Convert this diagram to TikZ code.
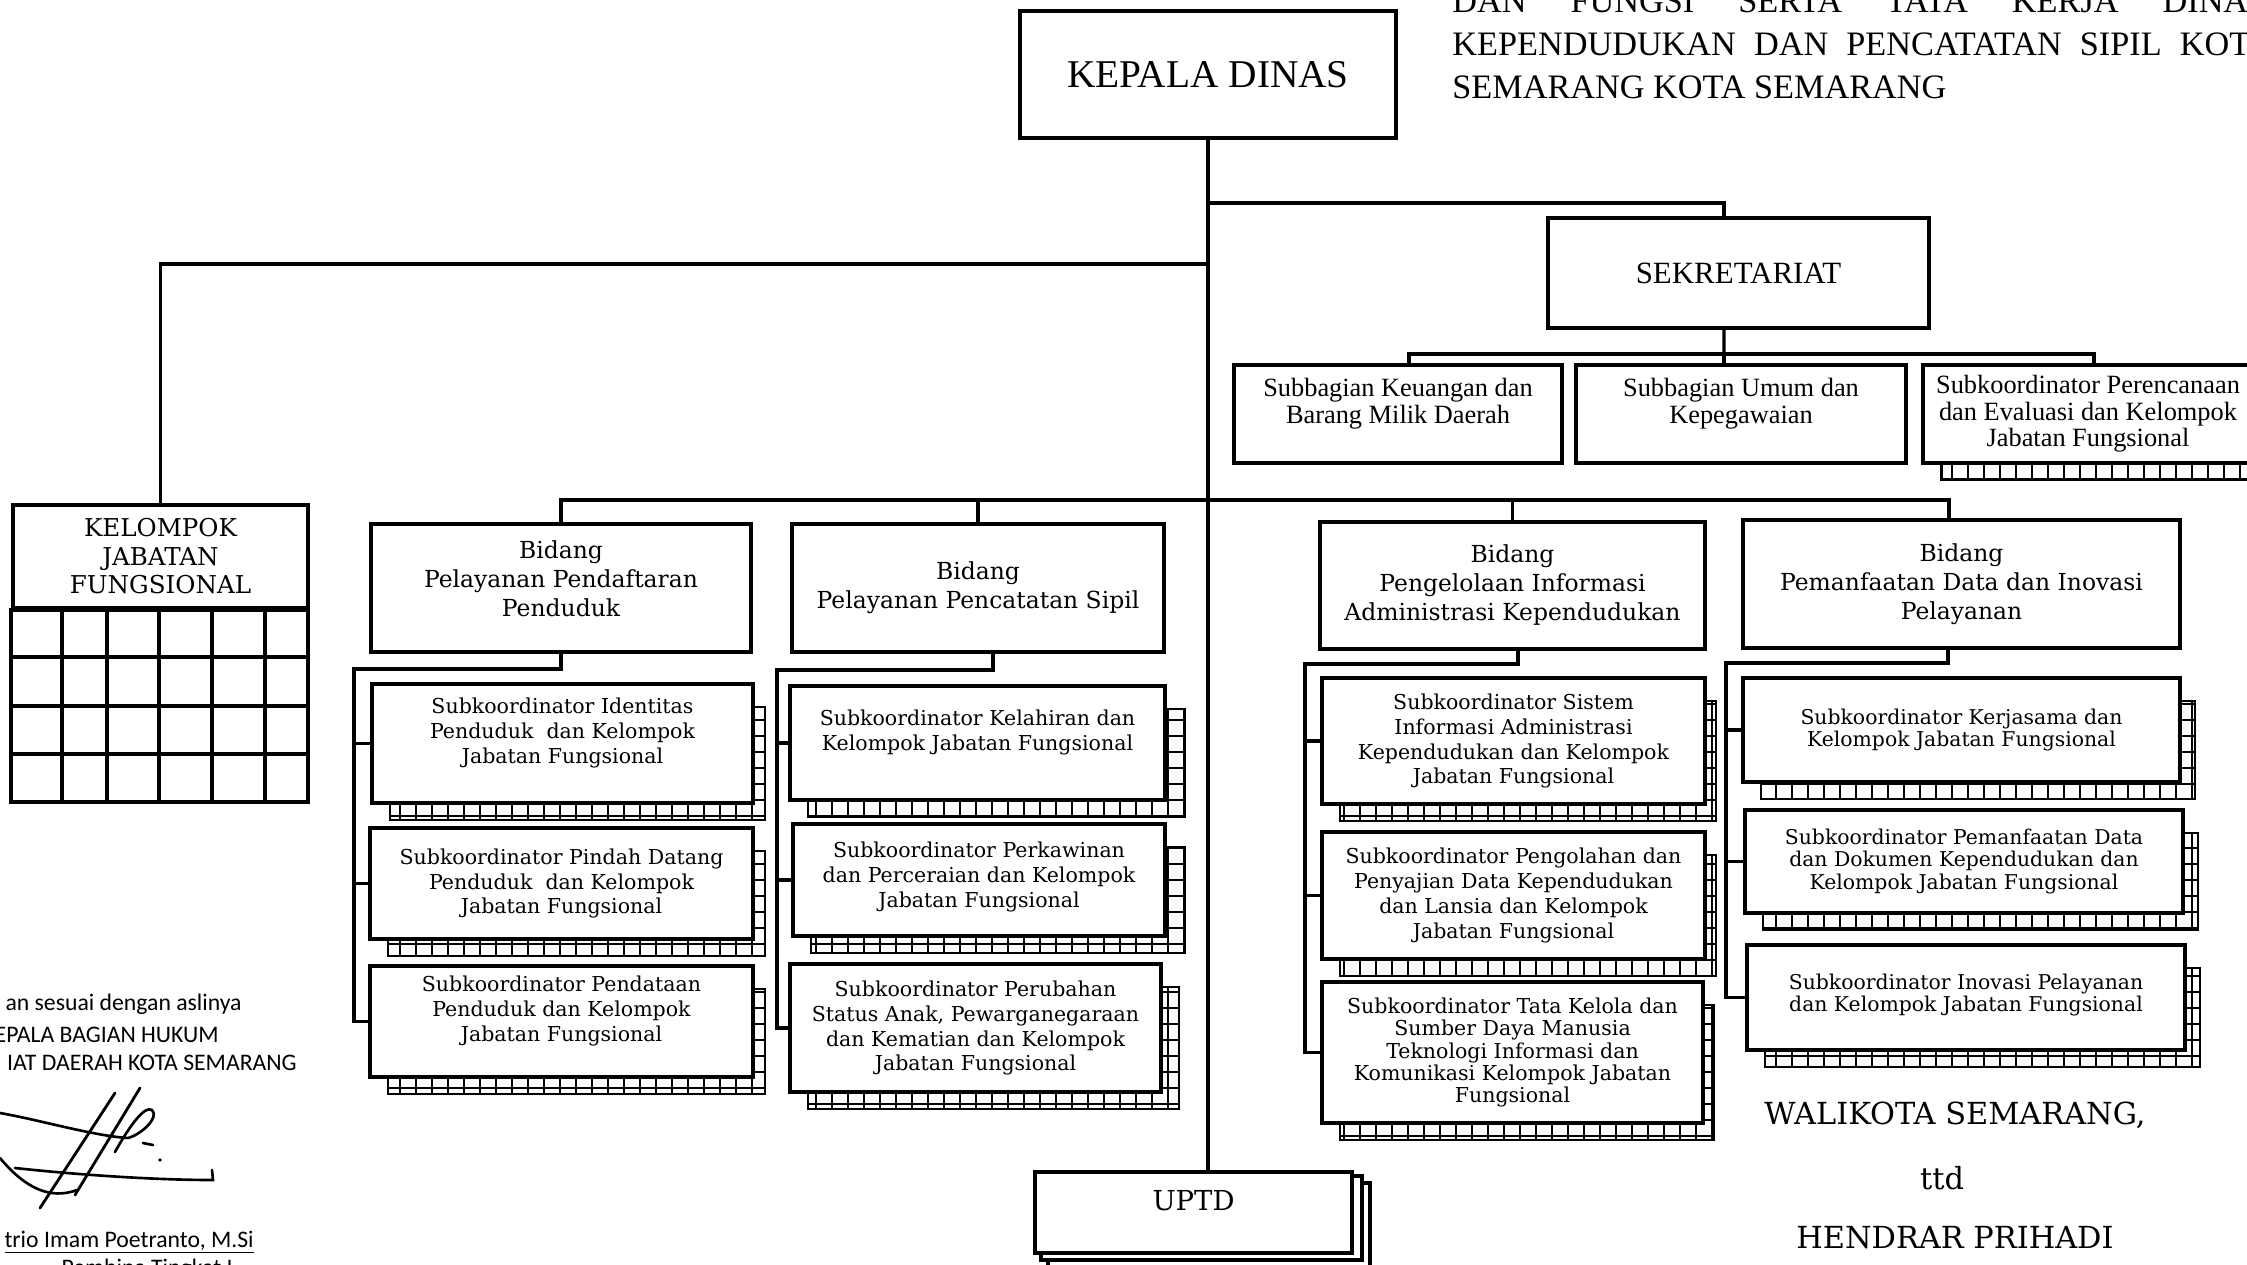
\documentclass[tikz,border=0pt]{standalone}
\usepackage[T1]{fontenc}
\usepackage{fontspec}
\setmainfont{Liberation Serif}
\newfontfamily\calfont{Carlito}
\IfFileExists{t1qbk.fd}
  {\newcommand{\bk}{\fontencoding{T1}\fontfamily{qbk}\selectfont}}
  {\newfontfamily\bk[Scale=0.92]{DejaVu Serif}}
\usetikzlibrary{backgrounds,positioning}

% stacked sheets behind a sub unit box
\newcommand{\tumpuk}[2][11]{%
  \begin{scope}[on background layer]
    \coordinate (#2-a) at ([shift={(20,25)}]#2.north west);
    \coordinate (#2-b) at ([shift={(#1,15)}]#2.south east);
    \fill[white] (#2-a) rectangle (#2-b);
    \draw[line width=0.9pt, step=0.32cm] (#2-a) grid (#2-b);
    \draw[line width=1.6pt] (#2-a) rectangle (#2-b);
  \end{scope}}

\begin{document}
\begin{tikzpicture}[
  x=0.2mm, y=-0.2mm,
  head/.style={
    draw, fill=white, line width=2.3pt,
    align=center, inner sep=2pt
  },
  subbag/.style={
    draw, fill=white, line width=1.8pt,
    align=center, inner sep=2pt,
    font=\fontsize{15}{15}\selectfont
  },
  bidang/.style={
    head, line width=2.2pt,
    font=\bk\fontsize{14.5}{16.5}\selectfont
  },
  unit/.style={
    head, line width=2.2pt,
    font=\bk\fontsize{12.7}{14.2}\selectfont
  },
  conn/.style={line width=1.9pt},
  ttdtext/.style={font=\bk\fontsize{18.8}{22}\selectfont},
  copytext/.style={font=\calfont\fontsize{13.5}{16}\selectfont, anchor=base east, inner sep=0pt},
  judul/.style={anchor=base west, inner sep=0pt, font=\fontsize{19.5}{24}\selectfont}
]
\useasboundingbox (0,0) rectangle (2247,1264);

% Title
\node[judul] (judul1) at (1452,12) {\makebox[16.3cm][s]{DAN FUNGSI SERTA TATA KERJA DINAS}};
\node[judul] (judul2) at (1452,55) {\makebox[16.4cm][s]{KEPENDUDUKAN DAN PENCATATAN SIPIL KOTA}};
\node[judul] (judul3) at (1452,98) {SEMARANG KOTA SEMARANG};

% Head and secretariat
\node[head, minimum width=7.52cm, minimum height=2.54cm, font=\fontsize{22.4}{26}\selectfont]
  (kepala) at (1208,74.5) {KEPALA DINAS};
\node[head, line width=2pt, minimum width=7.62cm, minimum height=2.2cm, font=\fontsize{17.6}{20}\selectfont]
  (sek) at (1738.5,273) {SEKRETARIAT};

\node[subbag, minimum width=6.56cm, minimum height=1.96cm]
  (sba) at (1398,414) {Subbagian Keuangan dan\\Barang Milik Daerah\\~};
\node[subbag, minimum width=6.6cm, minimum height=1.96cm]
  (sbb) at (1741,414) {Subbagian Umum dan\\Kepegawaian\\~};
\node[subbag, minimum width=6.6cm, minimum height=1.96cm]
  (sbc) at (2088,414) {Subkoordinator Perencanaan\\dan Evaluasi dan Kelompok\\Jabatan Fungsional};
\tumpuk{sbc}

% Kelompok jabatan fungsional
\node[head, line width=2.2pt, minimum width=5.9cm, minimum height=2.06cm, font=\bk\fontsize{15.2}{16.2}\selectfont]
  (kjf) at (160.5,556.5) {KELOMPOK\\JABATAN\\FUNGSIONAL};
\draw[line width=2.2pt] (kjf.south west) rectangle (308,802);
\foreach \x in {62,107,159,212,265}
  \draw[line width=2.2pt] (\x,608) -- (\x,802);
\foreach \y in {657,706,754}
  \draw[line width=2.2pt] (13,\y) -- (308,\y);

% Bidang
\node[bidang, minimum width=7.6cm, minimum height=2.56cm]
  (b1) at (561,588) {Bidang\\Pelayanan Pendaftaran\\Penduduk\\[-6pt]~};
\node[bidang, minimum width=7.44cm, minimum height=2.56cm]
  (b2) at (978,588) {Bidang\\Pelayanan Pencatatan Sipil};
\node[bidang, minimum width=7.7cm, minimum height=2.54cm]
  (b3) at (1512.5,585.5) {Bidang\\Pengelolaan Informasi\\Administrasi Kependudukan};
\node[bidang, minimum width=8.74cm, minimum height=2.56cm]
  (b4) at (1961.5,584) {Bidang\\Pemanfaatan Data dan Inovasi\\Pelayanan};

% Sub units, column 1
\node[unit, minimum width=7.62cm, minimum height=2.38cm]
  (c1s1) at (562.5,743.5) {Subkoordinator Identitas\\Penduduk~ dan Kelompok\\Jabatan Fungsional\\~};
\node[unit, minimum width=7.66cm, minimum height=2.22cm]
  (c1s2) at (561.5,883.5) {Subkoordinator Pindah Datang\\Penduduk~ dan Kelompok\\Jabatan Fungsional};
\node[unit, minimum width=7.66cm, minimum height=2.22cm]
  (c1s3) at (561.5,1021.5) {Subkoordinator Pendataan\\Penduduk dan Kelompok\\Jabatan Fungsional\\~};
\tumpuk[10]{c1s1}
\tumpuk[10]{c1s2}
\tumpuk[10]{c1s3}

% Sub units, column 2
\node[unit, minimum width=7.5cm, minimum height=2.28cm]
  (c2s1) at (977.5,743) {Subkoordinator Kelahiran dan\\Kelompok Jabatan Fungsional\\~};
\node[unit, minimum width=7.44cm, minimum height=2.24cm]
  (c2s2) at (979,880) {Subkoordinator Perkawinan\\dan Perceraian dan Kelompok\\Jabatan Fungsional\\[-8pt]~};
\node[unit, minimum width=7.42cm, minimum height=2.56cm]
  (c2s3) at (975.5,1028) {Subkoordinator Perubahan\\Status Anak, Pewarganegaraan\\dan Kematian dan Kelompok\\Jabatan Fungsional};
\tumpuk[18]{c2s1}
\tumpuk[18]{c2s2}
\tumpuk[16]{c2s3}

% Sub units, column 3
\node[unit, minimum width=7.66cm, minimum height=2.52cm]
  (c3s1) at (1513.5,741) {Subkoordinator Sistem\\Informasi Administrasi\\Kependudukan dan Kelompok\\Jabatan Fungsional};
\node[unit, minimum width=7.66cm, minimum height=2.54cm]
  (c3s2) at (1513.5,895.5) {Subkoordinator Pengolahan dan\\Penyajian Data Kependudukan\\dan Lansia dan Kelompok\\Jabatan Fungsional};
\node[unit, minimum width=7.62cm, minimum height=2.82cm, font=\bk\fontsize{12.7}{12.6}\selectfont]
  (c3s3) at (1512.5,1052.5) {Subkoordinator Tata Kelola dan\\Sumber Daya Manusia\\Teknologi Informasi dan\\Komunikasi Kelompok Jabatan\\Fungsional};
\tumpuk[9]{c3s1}
\tumpuk[9]{c3s2}
\tumpuk[9]{c3s3}

% Sub units, column 4
\node[unit, minimum width=8.74cm, minimum height=2.08cm, font=\bk\fontsize{12.6}{12.6}\selectfont]
  (c4s1) at (1961.5,730) {~\\[-4pt]Subkoordinator Kerjasama dan\\Kelompok Jabatan Fungsional};
\node[unit, minimum width=8.76cm, minimum height=2.06cm, font=\bk\fontsize{12.6}{12.6}\selectfont]
  (c4s2) at (1964,861.5) {Subkoordinator Pemanfaatan Data\\dan Dokumen Kependudukan dan\\Kelompok Jabatan Fungsional};
\node[unit, minimum width=8.76cm, minimum height=2.1cm, font=\bk\fontsize{12.6}{12.6}\selectfont]
  (c4s3) at (1966,997.5) {~\\[-7pt]Subkoordinator Inovasi Pelayanan\\dan Kelompok Jabatan Fungsional};
\tumpuk[13]{c4s1}
\tumpuk[13]{c4s2}
\tumpuk[13]{c4s3}

% UPTD
\node[head, line width=2.2pt, minimum width=6.34cm, minimum height=1.62cm, font=\bk\fontsize{17}{18}\selectfont]
  (uptd) at (1193.5,1212.5) {UPTD\\[-4pt]~};
\begin{scope}[on background layer]
  \draw[line width=2pt, fill=white] ([shift={(15,13)}]uptd.north west) rectangle ([shift={(16,40)}]uptd.south east);
  \draw[line width=2pt, fill=white] ([shift={(8,6)}]uptd.north west) rectangle ([shift={(8,5)}]uptd.south east);
\end{scope}

% Connectors
\coordinate (jsek) at (1207,203);
\coordinate (jkjf) at (1207,264);
\coordinate (sbus) at (1724,354);
\coordinate (bbus) at (1207,500);
\draw[conn] (kepala.south) -- (kepala.south |- uptd.north);
\draw[conn] (jsek) -| ([xshift=-0.29cm]sek.north);
\draw[conn] (jkjf) -| (kjf.north);
\draw[conn] ([xshift=-0.29cm]sek.south) -- (sbus);
\draw[conn] ([xshift=0.22cm]sba.north) |- (sbus) -| ([xshift=0.12cm]sbc.north);
\draw[conn] (sbus) -- (sbus |- sbb.north);
\draw[conn] (b1.north) |- (bbus) -| ([xshift=-0.25cm]b4.north);
\draw[conn] (b2.north) -- (b2.north |- bbus);
\draw[conn] (b3.north) -- (b3.north |- bbus);

\coordinate (k1) at (354,669);
\draw[conn] (b1.south) |- (k1) |- (c1s3.west);
\draw[conn] (k1 |- c1s1.west) -- (c1s1.west);
\draw[conn] (k1 |- c1s2.west) -- (c1s2.west);

\coordinate (k2) at (777,670);
\draw[conn] ([xshift=0.3cm]b2.south) |- (k2) |- (c2s3.west);
\draw[conn] (k2 |- c2s1.west) -- (c2s1.west);
\draw[conn] (k2 |- c2s2.west) -- (c2s2.west);

\coordinate (k3) at (1305,664);
\draw[conn] ([xshift=0.11cm]b3.south) |- (k3) |- (c3s3.west);
\draw[conn] (k3 |- c3s1.west) -- (c3s1.west);
\draw[conn] (k3 |- c3s2.west) -- (c3s2.west);

\coordinate (k4) at (1726,663);
\draw[conn] ([xshift=-0.27cm]b4.south) |- (k4) |- (c4s3.west);
\draw[conn] (k4 |- c4s1.west) -- (c4s1.west);
\draw[conn] (k4 |- c4s2.west) -- (c4s2.west);

% Signature block right
\node[ttdtext] (walikota) at (1955,1115) {WALIKOTA SEMARANG,};
\node[ttdtext] (ttd) at (1942,1178) {ttd};
\node[ttdtext] (hendrar) at (1955,1238) {HENDRAR PRIHADI};

% Copy note left
\node[copytext] (salinan) at (242,1010) {an sesuai dengan aslinya};
\node[copytext] (kabag) at (219,1042) {EPALA BAGIAN HUKUM};
\node[copytext] (setda) at (297,1070) {IAT DAERAH KOTA SEMARANG};
\node[copytext] (nama) at (254,1247) {\underline{trio Imam Poetranto, M.Si}};
\node[copytext] (pangkat) at (233,1275) {Pembina Tingkat I};
\draw[line width=1.5pt, line cap=round]
  (0,1113) .. controls (40,1120) and (90,1135) .. (127,1138);
\draw[line width=1.5pt, line cap=round]
  (0,1158) .. controls (25,1188) and (50,1200) .. (77,1190);
\draw[line width=1.5pt, line cap=round]
  (15,1168) .. controls (70,1174) and (150,1180) .. (213,1180) -- (212,1170);
\draw[line width=1.6pt, line cap=round] (40,1208) -- (115,1093);
\draw[line width=1.6pt, line cap=round] (75,1195) -- (140,1088);
\draw[line width=1.5pt, line cap=round]
  (115,1152) .. controls (130,1125) and (145,1105) .. (152,1110)
  .. controls (160,1118) and (140,1135) .. (128,1138);
\draw[line width=1.5pt, line cap=round] (143,1143) -- (153,1145);
\fill (160,1160) circle (1.8);

\end{tikzpicture}
\end{document}
